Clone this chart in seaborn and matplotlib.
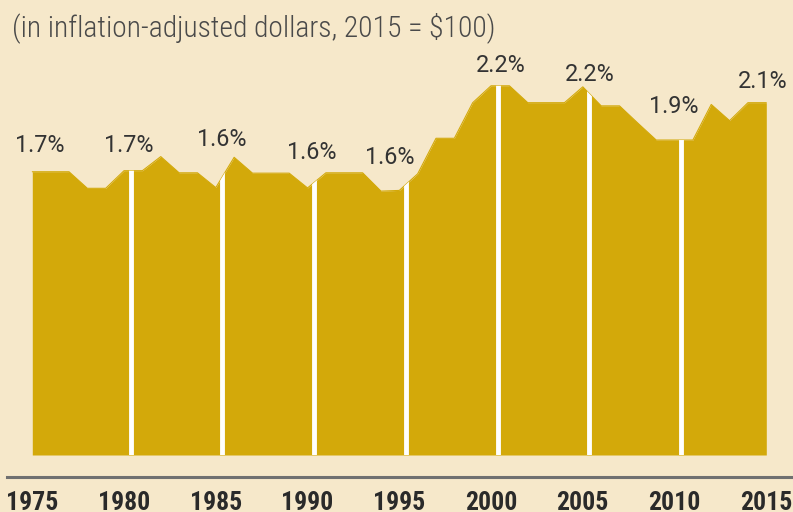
import matplotlib
matplotlib.use("Agg")
import matplotlib.pyplot as plt
import seaborn as sns
import numpy as np
import pandas as pd

# ---- data ----
years = list(range(1975, 2016))
values = [80.4, 80.4, 80.4, 75.7, 75.7, 80.7, 80.7, 84.7, 80.1, 80.1,
          75.9, 84.5, 80.0, 80.0, 80.0, 75.8, 80.1, 80.1, 80.1, 74.9,
          75.1, 79.8, 89.9, 89.9, 100.0, 104.8, 104.8, 100.0, 100.0, 100.0,
          104.5, 99.1, 99.1, 94.2, 89.4, 89.4, 89.4, 99.5, 94.9, 100.0, 100.0]
tick_years = [1975, 1980, 1985, 1990, 1995, 2000, 2005, 2010, 2015]
tick_labels = ["1975", "1980", "1985", "1990", "1995", "2000", "2005", "2010", "2015"]
divider_years = [1980, 1985, 1990, 1995, 2000, 2005, 2010]
pct_labels = ["1.7%", "1.7%", "1.6%", "1.6%", "1.6%", "2.2%", "2.2%", "1.9%", "2.1%"]
subtitle = "(in inflation-adjusted dollars, 2015 = $100)"

# label anchor positions (annotation placement)
pct_x = [1975.42, 1980.27, 1985.34, 1990.24, 1994.49, 2000.54, 2005.39, 2009.97, 2014.82]
pct_y = [86.0, 86.0, 87.7, 84.0, 82.6, 108.7, 106.2, 97.1, 104.1]

BG = "#f6e8ca"
GOLD = "#d3a90a"
TXT = "#333333"

sns.set_theme(style="white", rc={"axes.facecolor": BG, "figure.facecolor": BG})
plt.rcParams["font.family"] = ["Roboto", "DejaVu Sans"]

df = pd.DataFrame({"year": years, "value": values})

W, H = 793, 512
fig = plt.figure(figsize=(W / 100, H / 100), dpi=100)
fig.patch.set_facecolor(BG)
left_px, bottom_px = 6.7, 476.7
ax = fig.add_axes([left_px / W, 1 - bottom_px / H, 1 - left_px / W, bottom_px / H])
ax.set_facecolor(BG)

poly = ax.fill_between(df["year"], 0, df["value"], color=GOLD, linewidth=0, zorder=2)
sns.lineplot(data=df, x="year", y="value", ax=ax, color=GOLD, linewidth=0.8, zorder=3)

# white dividers, clipped to the filled area
path = poly.get_paths()[0]
vl = ax.vlines([d + 0.36 for d in divider_years], 0, 200, colors="white",
               linewidth=3.5, zorder=4)
vl.set_clip_path(path, ax.transData)

for x, y, t in zip(pct_x, pct_y, pct_labels):
    ax.text(x, y, t, ha="center", va="baseline", fontsize=16.8, color=TXT,
            family=["Roboto", "DejaVu Sans"], fontweight="normal", zorder=5)

ax.set_xlim(1973.605, 2016.455)
ax.set_ylim(-6.16, 129.15)
ax.set_xticks(tick_years)
ax.set_xticklabels(tick_labels, fontsize=18.5, fontweight="semibold", color="#2a2a2a",
                   family=["Roboto Condensed", "DejaVu Sans"])
ax.tick_params(axis="x", length=0, pad=10)
ax.set_yticks([])
ax.set_xlabel("")
ax.set_ylabel("")
for s in ["top", "left", "right"]:
    ax.spines[s].set_visible(False)
ax.spines["bottom"].set_color("#707070")
ax.spines["bottom"].set_linewidth(2.2)

fig.text(12 / W, 1 - 36 / H, subtitle, fontsize=21.3, color="#4a4a4a",
         ha="left", va="baseline", family=["Roboto Condensed", "DejaVu Sans"],
         fontweight="light")

fig.savefig("out.png", dpi=100, facecolor=BG)
